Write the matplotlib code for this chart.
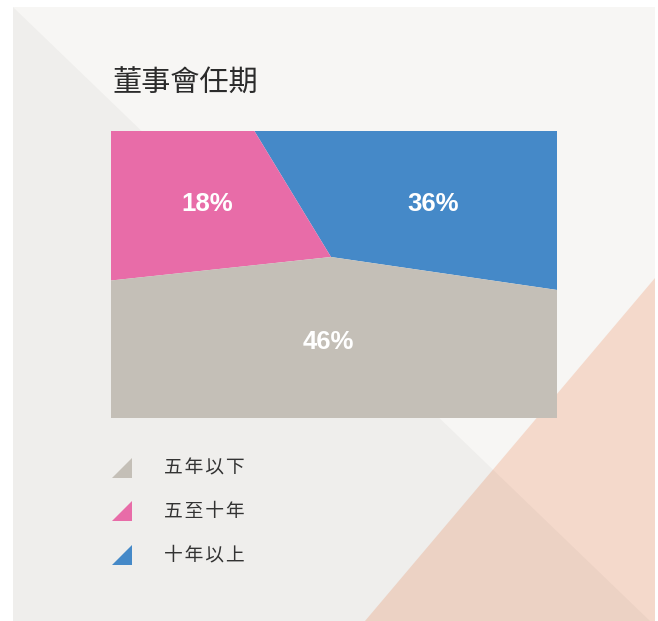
import matplotlib
matplotlib.use("Agg")
import matplotlib.pyplot as plt
from matplotlib.patches import Polygon, Rectangle

plt.rcParams['font.family'] = ['Noto Sans CJK TC', 'DejaVu Sans']

title = "董事會任期"
categories = ["五年以下", "五至十年", "十年以上"]
shares = [46, 18, 36]
labels = ["46%", "18%", "36%"]
colors = ["#c4bfb7", "#e86ca8", "#4589c8"]

W, H = 658, 621
fig = plt.figure(figsize=(W / 100, H / 100), dpi=100)
fig.patch.set_facecolor("white")

# background card with the two diagonal triangles
bg = fig.add_axes([0, 0, 1, 1])
bg.set_xlim(0, W)
bg.set_ylim(H, 0)
bg.axis("off")
bg.add_patch(Rectangle((13, 7), 642, 614, color="#f7f6f4", lw=0))
bg.add_patch(Polygon([(655, 278), (655, 621), (365, 621)], closed=True, color="#f4d9cb", lw=0))
bg.add_patch(Polygon([(13, 7), (13, 621), (650, 621)], closed=True, color="black", alpha=0.032, lw=0))

bg.text(112, 84, title, fontsize=21, fontweight="medium", color="#2b2b2b", va="center", ha="left")

# legend
tri = [(-1, -1), (1, -1), (1, 1)]
for i, (cat, col) in enumerate(zip(categories, colors)):
    y = 467.5 + i * 43.5
    bg.scatter([121.5], [y], marker=tri, s=190, color=col, lw=0)
    bg.text(164, y, "\u200a".join(cat), fontsize=13.5, color="#333333", va="center", ha="left")

# pie clipped to the rectangle
ax = fig.add_axes([111 / W, 1 - 418 / H, 446 / W, 287 / H])
order = [2, 1, 0]
wedges, _ = ax.pie([shares[i] for i in order], colors=[colors[i] for i in order],
                   startangle=-8.3, counterclock=True, center=(220, 161), radius=2000,
                   wedgeprops=dict(linewidth=0))
ax.set_aspect("auto")
ax.set_xlim(0, 446)
ax.set_ylim(0, 287)
ax.set_position([111 / W, 1 - 418 / H, 446 / W, 287 / H])
for w in wedges:
    w.set_clip_on(True)
    w.set_clip_path(ax.patch)

label_pos = [(217, 76), (96, 214), (322, 214)]
for lab, (x, y) in zip(labels, label_pos):
    ax.text(x, y, lab, fontsize=18.5, fontweight="bold", color="white",
            family="Liberation Sans", ha="center", va="center")

fig.savefig("out.png", dpi=100)
